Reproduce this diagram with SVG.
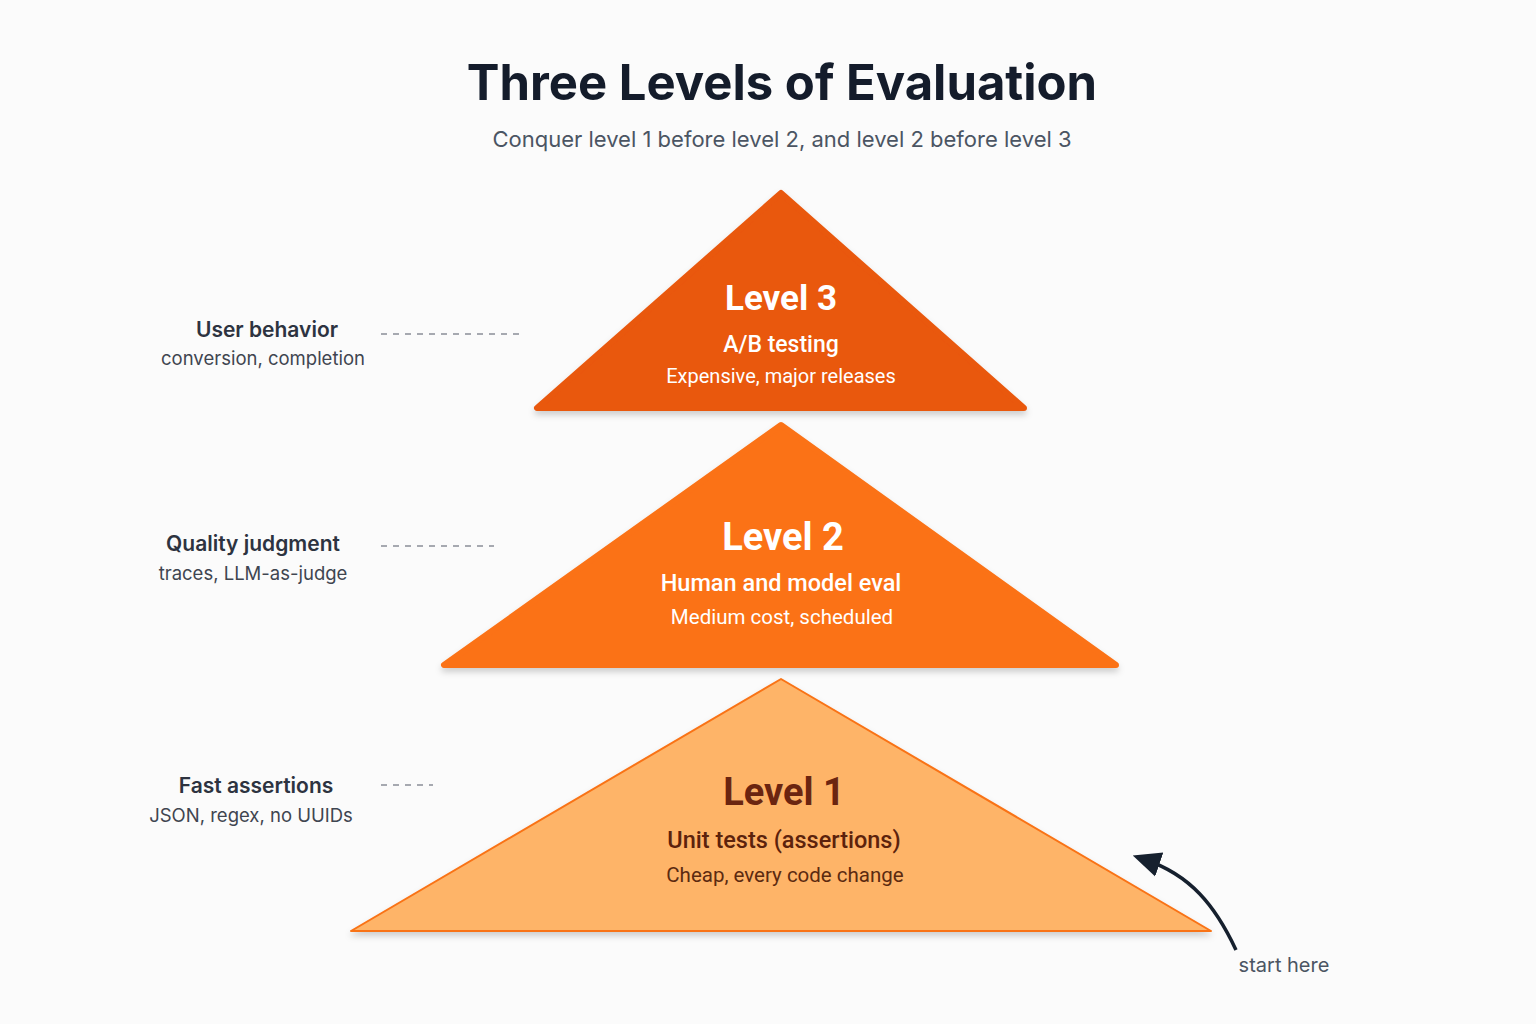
<svg xmlns="http://www.w3.org/2000/svg" width="1536" height="1024" viewBox="0 0 1536 1024">
<style>
text{font-family:Inter,"Noto Sans","Liberation Sans",sans-serif;text-anchor:middle}
.tri text{font-family:Roboto,Inter,"Liberation Sans",sans-serif}
.title{font-size:49px;font-weight:700;fill:#141c2b}
.sub{font-size:22px;fill:#4b5563}
.lvl{font-weight:700}
.w{fill:#ffffff}
.d{fill:#6b2510}
.lbl{font-size:21px;font-weight:600;fill:#2d3340}
.lbls{font-size:18.5px;fill:#3f4550}
.dash{stroke:#8a8f98;stroke-width:1.3;stroke-dasharray:6 6;fill:none}
</style>
<defs>
<filter id="sh" x="-10%" y="-10%" width="120%" height="130%">
<feDropShadow dx="0" dy="4" stdDeviation="3" flood-color="#000" flood-opacity="0.18"/>
</filter>
<marker id="ah" viewBox="0 0 10 10" refX="5" refY="5" markerWidth="8" markerHeight="8" orient="auto" markerUnits="strokeWidth">
<path d="M0,0.5 L10,5 L0,9.5 Z" fill="#16202e"/>
</marker>
</defs>
<rect width="1536" height="1024" fill="#fbfbfb"/>
<text class="title" x="782" y="100">Three Levels of Evaluation</text>
<text class="sub" x="782" y="147">Conquer level 1 before level 2, and level 2 before level 3</text>

<g id="level3" class="tri">
<path d="M781,193 L537,408 L1024,408 Z" fill="#e9580c" stroke="#e9580c" stroke-width="6" stroke-linejoin="round" filter="url(#sh)"/>
<text class="lvl w" x="781" y="310" font-size="35">Level 3</text>
<text class="w" x="781" y="352" font-size="23" font-weight="500">A/B testing</text>
<text class="w" x="781" y="383" font-size="20">Expensive, major releases</text>
</g>

<g id="level2" class="tri">
<path d="M781,425 L444,665 L1116,665 Z" fill="#fb7216" stroke="#fb7216" stroke-width="6" stroke-linejoin="round" filter="url(#sh)"/>
<text class="lvl w" x="783" y="550" font-size="38">Level 2</text>
<text class="w" x="781" y="591" font-size="23.5" font-weight="500">Human and model eval</text>
<text class="w" x="782" y="624" font-size="20.5">Medium cost, scheduled</text>
</g>

<g id="level1" class="tri">
<path d="M781,679 L351,931 L1211,931 Z" fill="#feb468" stroke="#f97316" stroke-width="2" stroke-linejoin="round" filter="url(#sh)"/>
<text class="lvl d" x="784" y="805" font-size="38">Level 1</text>
<text x="784" y="848" font-size="23.5" font-weight="500" fill="#5c220c">Unit tests (assertions)</text>
<text x="785" y="882" font-size="20.5" fill="#5c2a10">Cheap, every code change</text>
</g>

<g id="label3">
<text class="lbl" x="267" y="337">User behavior</text>
<text class="lbls" x="263" y="365">conversion, completion</text>
</g>
<g id="label2">
<text class="lbl" x="253" y="551">Quality judgment</text>
<text class="lbls" x="253" y="580">traces, LLM-as-judge</text>
</g>
<g id="label1">
<text class="lbl" x="256" y="793">Fast assertions</text>
<text class="lbls" x="251" y="822">JSON, regex, no UUIDs</text>
</g>
<g id="start">
<text x="1284" y="972" font-size="20" fill="#4b5563">start here</text>
</g>

<g id="connectors">
<line class="dash" x1="381" y1="334" x2="522" y2="334"/>
<line class="dash" x1="381" y1="546" x2="494" y2="546"/>
<line class="dash" x1="381" y1="785" x2="433" y2="785"/>
<path d="M1236,950 C1215,905 1190,875 1146,860" fill="none" stroke="#16202e" stroke-width="3.5" marker-end="url(#ah)"/>
</g>
</svg>
